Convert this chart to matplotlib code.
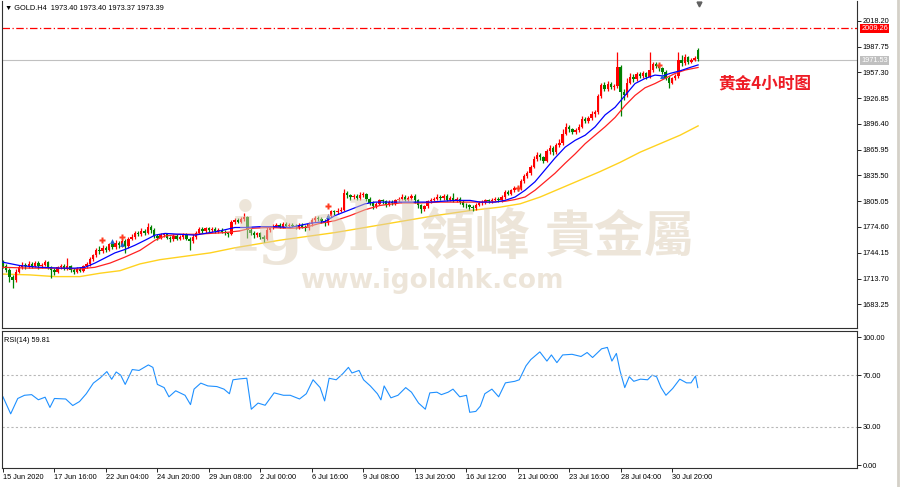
import numpy as np
import matplotlib
matplotlib.use("Agg")
import matplotlib.pyplot as plt

plt.rcParams['font.family'] = ['Liberation Sans', 'DejaVu Sans']

# GOLD H4 candles, 15 Jun - 31 Jul 2020
first_open = 1733.0
last_open = 1984.0
closes = [
    1729, 1724, 1716, 1712, 1722, 1727, 1730, 1728, 1731, 1729,
    1732, 1728, 1730, 1733, 1727, 1724, 1721, 1727, 1729, 1726,
    1728, 1724, 1722, 1725, 1723, 1728, 1731, 1737, 1741, 1748,
    1746, 1750, 1748, 1754, 1751, 1756, 1753, 1758, 1752, 1761,
    1763, 1768, 1766, 1770, 1768, 1774, 1771, 1764, 1762, 1765,
    1766, 1762, 1760, 1764, 1761, 1763, 1765, 1761, 1758, 1763,
    1768, 1772, 1770, 1773, 1771, 1772, 1770, 1771, 1769, 1767,
    1766, 1780, 1783, 1781, 1784, 1786, 1771, 1768, 1765, 1767,
    1763, 1761, 1771, 1774, 1776, 1777, 1775, 1778, 1776, 1777,
    1776, 1774, 1777, 1775, 1773, 1778, 1783, 1785, 1784, 1782,
    1779, 1788, 1793, 1792, 1794, 1795, 1815, 1812, 1810, 1811,
    1809, 1812, 1813, 1808, 1803, 1799, 1802, 1806, 1805, 1801,
    1804, 1803, 1806, 1808, 1810, 1807, 1809, 1811, 1806, 1800,
    1796, 1799, 1805, 1807, 1808, 1810, 1809, 1811, 1807, 1809,
    1806, 1808, 1804, 1801, 1800, 1798, 1797, 1801, 1803, 1804,
    1806, 1805, 1807, 1808, 1806, 1810, 1816, 1814, 1818, 1821,
    1819, 1829, 1835, 1838, 1846, 1855, 1860, 1857, 1853, 1864,
    1868, 1863, 1871, 1874, 1885, 1893, 1890, 1887, 1889, 1893,
    1902, 1900, 1903, 1908, 1910, 1929, 1942, 1938, 1944, 1940,
    1941, 1963, 1934, 1930, 1945, 1952, 1949, 1955, 1953, 1956,
    1952, 1960, 1967, 1965, 1962, 1958, 1951, 1945, 1950, 1953,
    1972, 1968, 1975, 1970, 1972, 1974, 1973.39,
]
highs = [
    1736, 1731, 1726, 1718, 1725, 1730, 1733, 1732, 1734, 1733,
    1735, 1734, 1732, 1736, 1735, 1729, 1726, 1729, 1731, 1731,
    1738, 1730, 1726, 1727, 1727, 1730, 1733, 1739, 1743, 1750,
    1752, 1753, 1752, 1756, 1756, 1759, 1758, 1761, 1760, 1763,
    1766, 1770, 1770, 1773, 1772, 1779, 1777, 1773, 1766, 1767,
    1768, 1768, 1764, 1766, 1766, 1765, 1767, 1767, 1763, 1766,
    1770, 1774, 1774, 1775, 1775, 1774, 1774, 1773, 1773, 1771,
    1769, 1783, 1785, 1785, 1786, 1791, 1788, 1773, 1770, 1769,
    1769, 1765, 1774, 1776, 1778, 1779, 1779, 1780, 1780, 1779,
    1779, 1778, 1779, 1779, 1777, 1780, 1785, 1787, 1787, 1786,
    1784, 1790, 1795, 1795, 1797, 1798, 1820, 1817, 1814, 1814,
    1813, 1816, 1816, 1815, 1810, 1805, 1804, 1808, 1808, 1807,
    1806, 1806, 1808, 1810, 1813, 1812, 1811, 1813, 1813, 1808,
    1802, 1801, 1807, 1809, 1810, 1813, 1812, 1813, 1813, 1811,
    1815, 1810, 1810, 1806, 1803, 1802, 1800, 1803, 1805, 1806,
    1808, 1808, 1809, 1810, 1810, 1812, 1818, 1818, 1820, 1823,
    1823, 1831, 1837, 1841, 1848, 1858, 1863, 1862, 1859, 1867,
    1871, 1870, 1874, 1878, 1890, 1897, 1895, 1892, 1891, 1896,
    1906, 1904, 1906, 1911, 1913, 1932, 1945, 1946, 1947, 1946,
    1944, 1981, 1966, 1937, 1951, 1956, 1955, 1958, 1958, 1959,
    1958, 1981, 1970, 1969, 1967, 1964, 1960, 1953, 1952, 1955,
    1981, 1978, 1979, 1977, 1974, 1976, 1986,
]
lows = [
    1726, 1721, 1710, 1703, 1710, 1720, 1725, 1725, 1726, 1726,
    1727, 1725, 1726, 1728, 1725, 1714, 1718, 1720, 1725, 1724,
    1724, 1721, 1719, 1720, 1721, 1722, 1726, 1729, 1735, 1739,
    1743, 1744, 1745, 1746, 1749, 1749, 1750, 1751, 1744, 1750,
    1759, 1761, 1764, 1764, 1765, 1766, 1768, 1762, 1759, 1760,
    1763, 1760, 1757, 1758, 1759, 1759, 1761, 1759, 1747, 1756,
    1761, 1766, 1768, 1768, 1769, 1769, 1768, 1768, 1767, 1765,
    1763, 1765, 1778, 1779, 1779, 1782, 1762, 1765, 1762, 1763,
    1760, 1757, 1759, 1769, 1772, 1774, 1773, 1773, 1774, 1774,
    1774, 1772, 1772, 1773, 1770, 1771, 1776, 1781, 1782, 1779,
    1776, 1777, 1786, 1789, 1790, 1792, 1793, 1809, 1807, 1808,
    1806, 1807, 1810, 1805, 1800, 1796, 1797, 1800, 1802, 1798,
    1799, 1800, 1801, 1804, 1806, 1805, 1805, 1807, 1803, 1797,
    1791, 1794, 1797, 1803, 1805, 1806, 1807, 1807, 1805, 1805,
    1804, 1804, 1802, 1798, 1797, 1795, 1794, 1795, 1799, 1801,
    1802, 1803, 1803, 1805, 1804, 1804, 1808, 1812, 1812, 1816,
    1817, 1818, 1827, 1833, 1836, 1844, 1852, 1854, 1850, 1851,
    1861, 1860, 1861, 1869, 1872, 1883, 1887, 1884, 1884, 1887,
    1891, 1897, 1898, 1901, 1905, 1908, 1927, 1935, 1935, 1937,
    1936, 1939, 1906, 1925, 1928, 1943, 1946, 1947, 1950, 1951,
    1949, 1950, 1958, 1962, 1959, 1955, 1948, 1939, 1943, 1948,
    1951, 1965, 1966, 1967, 1968, 1971, 1971,
]

# moving averages (blue fast, red slow, yellow long), read at bar positions
ma_blue_x = [0, 5.3, 11.5, 17.7, 22.4, 25.5, 28.6, 31.7, 34.8, 37.9, 41, 44.2, 47.3, 50.4,
             55, 59.7, 62.8, 67.5, 72.1, 75.2, 79.9, 84.6, 89.2, 95.5, 100.1, 103.2, 107.9,
             112.6, 115.7, 120.3, 126.6, 132.8, 140.5, 145.2, 148.3, 153, 156.1, 159.2, 162.3,
             165.4, 168.5, 171.6, 174.8, 177.9, 181, 184.1, 187.2, 190.3, 193.4, 196.5, 199.6,
             202.7, 205.2, 207.4, 210.5, 213.6, 216.1]
ma_blue = [1733, 1729, 1727, 1726, 1726, 1727, 1732, 1738, 1744, 1748, 1753, 1759, 1765, 1767,
           1766, 1765, 1767, 1770, 1774, 1774, 1775, 1775, 1774, 1779, 1781, 1788, 1795,
           1802, 1804, 1804, 1804, 1804, 1806, 1806, 1804, 1804, 1806, 1810, 1818,
           1828, 1842, 1856, 1869, 1877, 1883, 1893, 1907, 1916, 1930, 1944, 1950,
           1954, 1953, 1956, 1959, 1963, 1966]
ma_red_x = [0, 8.4, 17.7, 23.9, 28.6, 33.3, 37.9, 42.6, 47.3, 50.4, 55, 59.7, 64.4, 69, 73.7,
            76.8, 83, 89.2, 93.9, 98.6, 103.2, 107.9, 112.6, 117.2, 123.4, 129.7, 135.9, 142.1,
            151.4, 156.1, 159.2, 162.3, 165.4, 168.5, 171.6, 174.8, 177.9, 181, 184.1, 187.2,
            190.3, 193.4, 196.5, 199.6, 202.7, 205.8, 209, 212.1, 216.1]
ma_red = [1727, 1726, 1726, 1725, 1727, 1732, 1739, 1747, 1759, 1764, 1766, 1766, 1767, 1768, 1770,
          1773, 1774, 1773, 1774, 1779, 1782, 1788, 1795, 1800, 1803, 1803, 1804, 1804,
          1804, 1805, 1807, 1810, 1818, 1828, 1838, 1850, 1861, 1873, 1883, 1893,
          1904, 1918, 1930, 1939, 1944, 1950, 1956, 1960, 1963]
ma_yellow_x = [0, 8.4, 16.2, 23.9, 30.2, 36.4, 42.6, 48.8, 56.6, 64.4, 72.1, 86.1, 103.2, 118.8,
               134.3, 145.2, 154.5, 160.8, 167, 173.2, 179.4, 185.6, 191.9, 198.1, 204.3, 210.5, 216.1]
ma_yellow = [1719, 1718, 1716, 1716, 1720, 1723, 1731, 1736, 1740, 1744, 1750, 1759, 1768, 1778,
             1788, 1794, 1798, 1802, 1810, 1820, 1830, 1840, 1851, 1863, 1873, 1883, 1894]

# RSI(14)
rsi_x = [0, 2.4, 4.6, 6.7, 8.9, 11.0, 13.1, 14.6, 16.0, 19.5, 21.7, 23.8, 25.9, 28.1, 30.2, 32.3,
         33.8, 35.2, 36.6, 38.0, 40.2, 42.3, 45.2, 46.6, 48.0, 50.1, 51.6, 53.7, 56.6, 58.3, 59.4,
         61.5, 63.7, 66.5, 68.7, 70.4, 71.5, 73.6, 75.8, 77.2, 79.3, 81.5, 84.3, 87.2, 89.3, 92.2,
         94.3, 96.4, 98.6, 100.0, 101.4, 103.6, 105.7, 107.4, 108.5, 110.7, 112.1, 114.2, 116.4,
         117.5, 118.5, 120.6, 122.8, 125.2, 127.0, 129.2, 131.3, 132.7, 134.9, 136.3, 138.4,
         139.9, 142.0, 144.1, 145.1, 147.0, 148.4, 149.8, 152.0, 154.1, 156.2, 159.1, 160.5,
         162.6, 164.1, 166.9, 169.1, 170.5, 172.2, 174.0, 176.9, 179.7, 181.6, 183.3, 186.1,
         187.9, 189.3, 190.7, 191.8, 193.3, 194.7, 196.1, 198.2, 200.4, 201.8, 203.2, 204.6,
         206.1, 208.2, 210.4, 212.5, 213.9, 215.3, 216.0]
rsi = [53.3, 40, 52, 54.5, 55, 51, 53, 45, 52, 51.6, 46.5, 49.6, 55.7, 64, 68, 73,
       67, 72.7, 70.2, 63, 74.6, 73.9, 78.2, 76.3, 63, 60.5, 53.3, 58, 54.5, 47.2, 59.3,
       64, 61.8, 61.3, 59.3, 55.7, 66.6, 67.3, 67.8, 43.6, 48.4, 46.7, 56.4, 54.5, 54.5, 51.6,
       55.7, 66.6, 60.5, 50.1, 67.8, 66.6, 71.5, 76.3, 71.9, 73.9, 66.6, 61.8, 55.7,
       50.9, 61.8, 52.5, 54.5, 60.5, 56.9, 48.4, 43.6, 56.4, 56.9, 55, 56.9,
       59.3, 53.3, 54.5, 41.2, 41.9, 46, 55.7, 59.3, 53.3, 64.2, 65.4, 66.6,
       77.5, 82.4, 88.4, 81.2, 86, 80, 86, 86.5, 84.8, 87.9, 84, 90.8,
       91.9, 81.2, 87.2, 73.9, 60.5, 69, 65.4, 67.1, 66.6, 70.2, 69, 60.5,
       54.5, 59.8, 67.1, 64.2, 64.2, 69.5, 60.5]

# signal arrows on the chart
arrow_x = [30.8, 37.0, 101, 160, 204]
arrow_y = [1759, 1763, 1799, 1821, 1966]
blue_arrow_x = [33.9, 37.0, 101, 205]
blue_arrow_y = [1758, 1755, 1788, 1953]

price_ticks = [2018.20, 1987.75, 1957.30, 1926.85, 1896.40, 1865.95, 1835.50,
               1805.05, 1774.60, 1744.15, 1713.70, 1683.25]
rsi_ticks = [0, 30, 70, 100]
date_labels = ["15 Jun 2020", "17 Jun 16:00", "22 Jun 04:00", "24 Jun 20:00",
               "29 Jun 08:00", "2 Jul 00:00", "6 Jul 16:00", "9 Jul 08:00",
               "13 Jul 20:00", "16 Jul 12:00", "21 Jul 00:00", "23 Jul 16:00",
               "28 Jul 04:00", "30 Jul 20:00"]
date_bars = [0, 16, 32, 48, 64, 80, 96, 112, 128, 144, 160, 176, 192, 208]
stop_level = 2009.26
bid_level = 1971.53

tick_font = 5.3
frame = '#303030'
up_color = '#ff0000'
down_color = '#008000'

fig = plt.figure(figsize=(9, 4.87), dpi=100)
W, H = 900.0, 487.0
ax = fig.add_axes([2 / W, 1 - 328 / H, 855 / W, 327 / H])
rx = fig.add_axes([2 / W, 1 - 468 / H, 855 / W, 137 / H], sharex=ax)

closes_a = np.array(closes, dtype=float)
opens = np.r_[first_open, closes_a[:-1]]
opens[-1] = last_open
bars = np.arange(len(closes_a))
up = closes_a >= opens
colors = np.where(up, up_color, down_color)

ax.vlines(bars, lows, highs, colors=colors, linewidth=0.9, zorder=3)
body_lo = np.minimum(opens, closes_a)
body_h = np.maximum(np.abs(closes_a - opens), 0.8)
ax.bar(bars, body_h, bottom=body_lo, width=0.74, color=colors, linewidth=0, zorder=4)

ax.plot(ma_yellow_x, ma_yellow, color='#ffd21f', lw=1.0, zorder=2)
ax.plot(ma_red_x, ma_red, color='#ff2020', lw=0.9, zorder=5)
ax.plot(ma_blue_x, ma_blue, color='#0000ff', lw=0.9, zorder=5)

ax.plot(arrow_x, arrow_y, ls='none', marker='P', ms=4, color='#ff3b1f', mec='none', zorder=6)
ax.plot(blue_arrow_x, blue_arrow_y, ls='none', marker='^', ms=3.5, color='#1f5fd0', mec='none', zorder=6)

ax.axhline(stop_level, color='#ff0000', lw=0.9, ls=(0, (6, 2, 1, 2)), zorder=1)
ax.axhline(bid_level, color='#c0c0c0', lw=0.8, zorder=1)

ax.set_xlim(-0.3, 265.5)
ax.set_ylim(1655.3, 2041.5)
ax.yaxis.tick_right()
ax.set_yticks(price_ticks)
ax.set_yticklabels([f"{v:.2f}" for v in price_ticks])
ax.tick_params(axis='y', direction='out', length=3, width=0.6, pad=1,
               labelsize=tick_font, colors='black')
ax.tick_params(axis='x', bottom=False, labelbottom=False)
for s in ax.spines.values():
    s.set_color(frame)
    s.set_linewidth(0.8)
ax.spines['top'].set_visible(False)

ax.text(0.003, 0.988, "\u25bc GOLD.H4  1973.40 1973.40 1973.37 1973.39", transform=ax.transAxes,
        fontsize=tick_font, va='top', ha='left', family=['Liberation Sans', 'DejaVu Sans'])
ax.plot([216.3], [2038.5], marker='v', ms=3.5, color='#606060', clip_on=False)

ax.annotate(f"{stop_level:.2f}", xy=(1.0, stop_level), xycoords=('axes fraction', 'data'),
            xytext=(3, 0), textcoords='offset points', va='center', ha='left',
            fontsize=tick_font, color='white',
            bbox=dict(boxstyle='square,pad=0.15', fc='#ff0000', ec='none'))
ax.annotate(f"{bid_level:.2f}", xy=(1.0, bid_level), xycoords=('axes fraction', 'data'),
            xytext=(3, 0), textcoords='offset points', va='center', ha='left',
            fontsize=tick_font, color='white',
            bbox=dict(boxstyle='square,pad=0.15', fc='#c0c0c0', ec='none'))

ax.text(718 / W, 1 - 83 / H, "黄金4小时图", transform=fig.transFigure, fontsize=12,
        color='#ee1c25', fontweight='bold', va='center', ha='left',
        family=['Noto Sans CJK SC', 'DejaVu Sans'])

# RSI panel
rx.plot(rsi_x, rsi, color='#1e90ff', lw=0.8)
for lvl in (70, 30):
    rx.axhline(lvl, color='#b8b8b8', lw=0.8, ls=(0, (2, 2)))
rx.set_ylim(-2.3, 104.7)
rx.yaxis.tick_right()
rx.set_yticks(rsi_ticks)
rx.set_yticklabels([f"{v:.2f}" for v in rsi_ticks])
rx.tick_params(axis='y', direction='out', length=3, width=0.6, pad=1, labelsize=tick_font)
rx.set_xticks(date_bars)
rx.set_xticklabels(date_labels)
rx.tick_params(axis='x', direction='out', length=3, width=0.6, pad=1.5, labelsize=tick_font)
for lab in rx.get_xticklabels():
    lab.set_ha('left')
for s in rx.spines.values():
    s.set_color(frame)
    s.set_linewidth(0.8)
rx.text(0.002, 0.955, "RSI(14) 59.81", transform=rx.transAxes, fontsize=tick_font,
        va='top', ha='left')

# watermark
wm = '#dccdb5'
fig.text(233 / W, 1 - 250 / H, "igold", fontsize=48, family='DejaVu Serif',
         fontweight='bold', color=wm, alpha=0.5, va='baseline', zorder=10)
fig.text(420 / W, 1 - 254 / H, "領峰", fontsize=40, family='Noto Sans CJK TC',
         fontweight='bold', color=wm, alpha=0.5, va='baseline', zorder=10)
fig.text(545 / W, 1 - 251 / H, "貴金屬", fontsize=36, family='Noto Sans CJK TC',
         fontweight='bold', color=wm, alpha=0.5, va='baseline', zorder=10)
fig.text(300 / W, 1 - 288 / H, "www.igoldhk.com", fontsize=19, family='DejaVu Sans',
         fontweight='bold', color=wm, alpha=0.5, va='baseline', zorder=10)

fig.add_artist(plt.Line2D([0.998, 0.998], [0, 1], transform=fig.transFigure,
                          color='#d4d0c8', lw=2))

fig.savefig("out.png", dpi=100)
